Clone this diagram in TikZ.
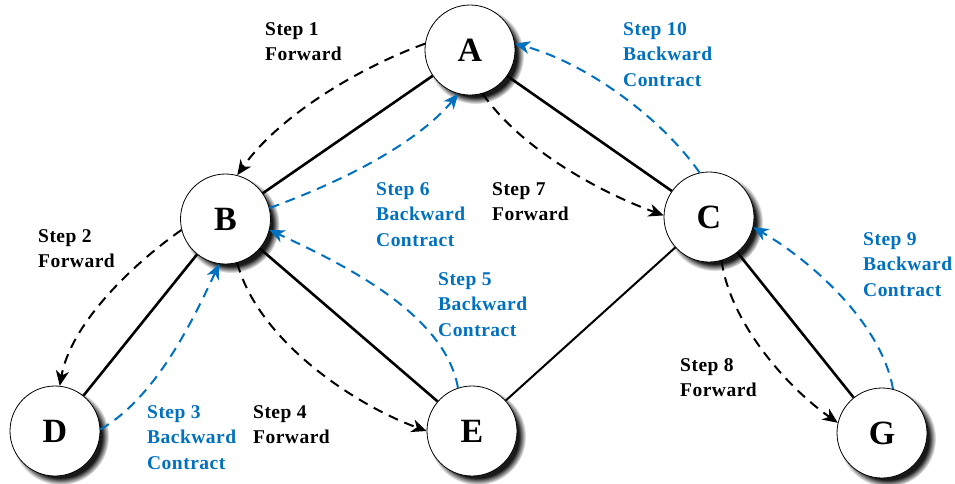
\documentclass[tikz,border=0pt]{standalone}
\usepackage{fontspec}
\setmainfont{Liberation Serif}[LetterSpace=2.5]
\usetikzlibrary{arrows.meta,shadows}
\definecolor{stepblue}{RGB}{0,112,192}
\tikzset{
  state/.style={circle, draw=black, line width=0.8pt, fill=white, minimum size=90pt, inner sep=0pt,
    font=\fontsize{34}{34}\selectfont\bfseries,
    circular drop shadow={shadow xshift=5pt, shadow yshift=-5pt, shadow scale=1.08, opacity=0.9, fill=black}},
  edge/.style={line width=2.6pt, black},
  thinedge/.style={line width=2pt, black},
  fwd/.style={line width=2pt, black, dash pattern=on 10pt off 7pt, -{Stealth[length=15pt,width=13pt,inset=4.5pt]}},
  bwd/.style={line width=2pt, stepblue, dash pattern=on 10pt off 7pt, -{Stealth[length=15pt,width=13pt,inset=4.5pt]}},
  lbl/.style={anchor=north west, inner sep=0pt, align=left, font=\fontsize{19.5}{25.5}\selectfont\bfseries},
  blbl/.style={lbl, text=stepblue}
}
\begin{document}
\begin{tikzpicture}[x=1pt,y=1pt]
\useasboundingbox (0,0) rectangle (955,-483);
\node[state] (A) at (470,-50) {A};
\node[state] (B) at (225.5,-219) {B};
\node[state] (C) at (709,-217) {C};
\node[state] (D) at (55,-431) {D};
\node[state] (E) at (472,-431) {E};
\node[state] (G) at (882,-433) {G};

\draw[edge] (A) -- (B);
\draw[edge] (A) -- (C);
\draw[edge] (B) -- (D);
\draw[edge] (B) -- (E);
\draw[thinedge] (C) -- (E);
\draw[edge] (C) -- (G);

% forward steps
\draw[fwd] (A.172) to[out=200,in=55,looseness=0.8] (B.75);
\draw[fwd] (B.194) to[out=215,in=80,looseness=0.8] (D.84);
\draw[fwd] (B.285) to[out=285,in=160,looseness=0.8] (E.180);
\draw[fwd] (A.286) to[out=305,in=160,looseness=0.8] (C.178);
\draw[fwd] (C.286) to[out=278,in=145,looseness=0.8] (G.167);

% backward steps
\draw[bwd] (D.2) to[out=30,in=245,looseness=0.8] (B.262);
\draw[bwd] (E.108) to[out=100,in=335,looseness=0.8] (B.346);
\draw[bwd] (B.14) to[out=20,in=230,looseness=0.8] (A.255);
\draw[bwd] (G.76) to[out=100,in=330,looseness=0.8] (C.347);
\draw[bwd] (C.102) to[out=125,in=345,looseness=0.8] (A.8);

% labels
\node[lbl] (l1) at (265,-22) {Step 1\\Forward};
\node[lbl] (l2) at (38,-229) {Step 2\\Forward};
\node[blbl] (l3) at (147,-405) {Step 3\\Backward\\Contract};
\node[lbl] (l4) at (253,-405) {Step 4\\Forward};
\node[blbl] (l5) at (438,-272) {Step 5\\Backward\\Contract};
\node[blbl] (l6) at (376,-182) {Step 6\\Backward\\Contract};
\node[lbl] (l7) at (492,-182) {Step 7\\Forward};
\node[lbl] (l8) at (680,-358) {Step 8\\Forward};
\node[blbl] (l9) at (863,-232) {Step 9\\Backward\\Contract};
\node[blbl] (l10) at (623,-22) {Step 10\\Backward\\Contract};
\end{tikzpicture}
\end{document}
